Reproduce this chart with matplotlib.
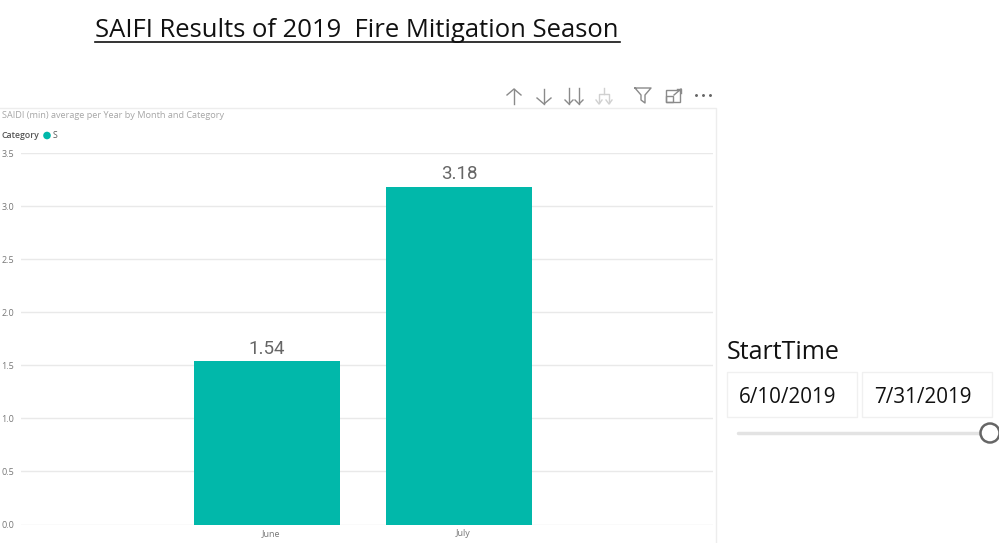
import numpy as np
import matplotlib
matplotlib.use("Agg")
import matplotlib.pyplot as plt
from matplotlib.patches import Rectangle, Circle
from matplotlib.transforms import ScaledTranslation

months = ['June', 'July']
saidi = [1.54, 3.18]
value_labels = ['1.54', '3.18']
yticks = [0.0, 0.5, 1.0, 1.5, 2.0, 2.5, 3.0, 3.5]
title = 'SAIFI Results of 2019  Fire Mitigation Season'
visual_title = 'SAIDI (min) average per Year by Month and Category'
slicer_name = 'StartTime'
start_date = '6/10/2019'
end_date = '7/31/2019'

W, H = 999, 543
TEAL = '#01B8AA'
plt.rcParams['font.family'] = ['Open Sans', 'DejaVu Sans']

fig = plt.figure(figsize=(W / 100, H / 100), dpi=100, facecolor='white')

# overlay in pixel coordinates for the report page furniture
page = fig.add_axes([0, 0, 1, 1], zorder=0)
page.set_xlim(0, W)
page.set_ylim(H, 0)
page.axis('off')

# chart area
x0, x1, ytop, ybot = 21, 713, 153, 524.5
ax = fig.add_axes([x0 / W, 1 - ybot / H, (x1 - x0) / W, (ybot - ytop) / H], zorder=1)
ax.patch.set_alpha(0)
pos = np.arange(len(months))
ax.bar(pos, saidi, width=0.76, color=TEAL, zorder=3)
ax.set_xlim(-1.281, 2.323)
ax.set_ylim(0, 3.5)
ax.set_yticks(yticks)
ax.set_yticklabels(['%.1f' % t for t in yticks], fontsize=6.5, color='#777777')
ax.set_xticks(pos)
ax.set_xticklabels(months, fontsize=6.5, color='#777777')
ax.tick_params(length=0)
ax.tick_params(axis='y', pad=5)
ax.tick_params(axis='x', pad=3.5)
for lab in ax.get_xticklabels():
    lab.set_transform(lab.get_transform() + ScaledTranslation(4 / 100, 0, fig.dpi_scale_trans))
ax.grid(axis='y', color='#E9E9E9', lw=1, zorder=0)
for s in ax.spines.values():
    s.set_visible(False)
for p, v, t in zip(pos, saidi, value_labels):
    ax.annotate(t, (p, v), xytext=(0, 2.5), textcoords='offset points', ha='center', va='bottom',
                fontsize=13.5, color='#666666', family=['Roboto', 'DejaVu Sans'])

# title
page.text(95, 30.5, title, fontsize=18.45, color='#111111', va='center', ha='left')
page.plot([95, 620], [42, 42], color='#111111', lw=1.2)

# visual frame
page.plot([0, 716, 716], [108, 108, 543], color='#EDEDED', lw=1)
page.text(2, 115, visual_title, fontsize=6.55, color='#A6A6A6', va='center')
page.text(2, 135, 'Category', fontsize=6.3, color='#555555', va='center', weight='semibold')
page.add_patch(Circle((47, 135.5), 3.8, color=TEAL, lw=0))
page.text(53, 135, 'S', fontsize=6.3, color='#555555', va='center')

# header icons
ic = '#8A8A8A'
def arrow(x, y0, y1, color=ic):
    d = 6 if y1 > y0 else -6
    page.plot([x, x], [y0, y1], color=color, lw=1)
    page.plot([x - 7, x, x + 7], [y1 - d, y1, y1 - d], color=color, lw=1)
arrow(514, 104, 89)
arrow(544, 89, 104)
for x in (569, 579):
    page.plot([x, x], [88, 104], color=ic, lw=1)
    page.plot([x - 4, x, x + 4], [100, 104, 100], color=ic, lw=1)
lt = '#D0D0D0'
page.plot([604, 604], [88, 94], color=lt, lw=1)
page.plot([599, 599, 609, 609], [103, 94, 94, 103], color=lt, lw=1)
page.plot([596, 599, 602], [100, 104, 100], color=lt, lw=1)
page.plot([606, 609, 612], [100, 104, 100], color=lt, lw=1)
page.plot([635, 651, 645, 645, 641, 641, 635], [88, 88, 95, 103, 100, 95, 88], color=ic, lw=1)
page.add_patch(Rectangle((666, 90), 14, 12, fill=False, ec=ic, lw=1))
page.add_patch(Rectangle((666, 96), 7, 6, fill=False, ec=ic, lw=1))
page.plot([674, 681], [95, 89], color=ic, lw=1)
page.plot([677, 681, 681], [89, 89, 93], color=ic, lw=1)
page.plot([696, 703, 710], [95, 95, 95], ls='none', marker='o', ms=1.1, color='#666666')

# date slicer
page.text(727, 352.5, slicer_name, fontsize=18, color='#111111', va='center')
page.add_patch(Rectangle((727, 372), 130, 45, fill=False, ec='#F0F0F0', lw=1))
page.add_patch(Rectangle((862, 372), 130, 45, fill=False, ec='#F0F0F0', lw=1))
page.text(739, 397.5, start_date, fontsize=14.9, color='#111111', va='center')
page.text(874, 397.5, end_date, fontsize=14.9, color='#111111', va='center')
page.plot([738, 985], [433, 433], color='#E3E3E3', lw=2.5, solid_capstyle='round')
page.add_patch(Circle((990, 433), 9.5, fc='white', ec='#666666', lw=1.8, zorder=4))

fig.savefig('out.png', dpi=100)
